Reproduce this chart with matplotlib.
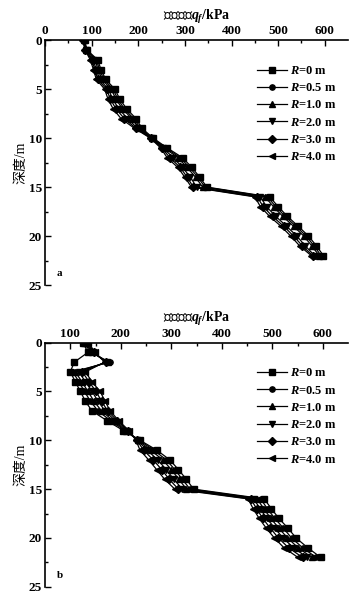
import matplotlib.pyplot as plt
import numpy as np

plt.rcParams['font.family'] = ['Liberation Serif', 'Noto Sans CJK SC']
plt.rcParams['mathtext.fontset'] = 'custom'
plt.rcParams['mathtext.it'] = 'Liberation Serif:italic:bold'
plt.rcParams['mathtext.rm'] = 'Liberation Serif:bold'

depth = list(range(23))
labels = ['$R$=0 m', '$R$=0.5 m', '$R$=1.0 m', '$R$=2.0 m', '$R$=3.0 m', '$R$=4.0 m']
markers = ['s', 'o', '^', 'v', 'D', '<']

# panel a
a_r0 = [85, 90, 113, 120, 130, 150, 160, 175, 195, 208, 232, 262, 295, 315, 332, 347, 482, 500, 520, 543, 565, 582, 597]
a_r05 = [84, 89, 110, 117, 126, 146, 156, 170, 190, 205, 230, 259, 290, 310, 328, 343, 477, 495, 515, 538, 560, 577, 592]
a_r1 = [83, 88, 107, 114, 122, 142, 152, 166, 186, 202, 229, 256, 285, 305, 323, 338, 472, 490, 510, 533, 555, 572, 588]
a_r2 = [82, 87, 103, 110, 117, 136, 145, 158, 177, 198, 228, 253, 275, 295, 312, 325, 462, 475, 495, 518, 540, 558, 578]
a_r3 = [82, 86, 100, 107, 113, 132, 140, 152, 170, 195, 227, 250, 268, 290, 305, 318, 455, 468, 488, 512, 533, 552, 574]
a_r4 = [81, 86, 97, 104, 110, 128, 135, 146, 163, 192, 226, 248, 262, 285, 300, 314, 450, 462, 482, 506, 527, 546, 571]

# panel b
b_r0 = [125, 135, 108, 100, 110, 120, 130, 143, 173, 205, 238, 271, 297, 314, 330, 344, 484, 498, 513, 531, 547, 570, 596]
b_r05 = [128, 140, 178, 105, 117, 128, 140, 155, 180, 208, 236, 265, 290, 307, 322, 337, 477, 490, 505, 522, 538, 560, 587]
b_r1 = [130, 143, 175, 110, 123, 135, 147, 162, 185, 210, 234, 259, 283, 300, 315, 330, 470, 483, 497, 513, 530, 551, 578]
b_r2 = [132, 145, 172, 117, 130, 143, 155, 169, 189, 212, 233, 252, 273, 290, 305, 322, 463, 476, 489, 505, 521, 542, 569]
b_r3 = [134, 147, 170, 124, 137, 151, 162, 174, 193, 214, 232, 245, 264, 281, 296, 314, 457, 469, 481, 496, 512, 532, 560]
b_r4 = [136, 149, 168, 130, 143, 159, 169, 179, 196, 216, 230, 238, 255, 271, 287, 307, 452, 462, 474, 488, 504, 523, 551]

fig = plt.figure(figsize=(3.6, 6), dpi=100)
ax_a = fig.add_axes([0.125, 0.525, 0.842, 0.408])
ax_b = fig.add_axes([0.125, 0.022, 0.842, 0.407])


def draw_panel(ax, series, xlim, xticks, xminor, tag):
    for vals, m, lab in zip(series, markers, labels):
        ax.plot(vals, depth, color='black', lw=0.9, marker=m, ms=3.8, label=lab)
    ax.set_xlim(xlim)
    ax.set_ylim(25, 0)
    ax.xaxis.tick_top()
    ax.xaxis.set_label_position('top')
    ax.set_xticks(xticks)
    ax.set_xticks(xminor, minor=True)
    ax.set_yticks([0, 5, 10, 15, 20, 25])
    ax.set_yticks([2.5, 7.5, 12.5, 17.5, 22.5], minor=True)
    ax.tick_params(which='both', direction='in', width=1, labelsize=9.5, pad=2)
    ax.tick_params(which='major', length=4)
    ax.tick_params(which='minor', length=2.5)
    for t in ax.get_xticklabels() + ax.get_yticklabels():
        t.set_fontweight('bold')
    ax.spines['right'].set_visible(False)
    ax.spines['bottom'].set_visible(False)
    ax.spines['left'].set_linewidth(1.2)
    ax.spines['top'].set_linewidth(1.2)
    ax.set_xlabel('静破坏力$q_f$/kPa', fontsize=10, fontweight='bold', labelpad=4)
    ax.set_ylabel('深度/m', fontsize=10, labelpad=1)
    leg = ax.legend(loc='upper right', bbox_to_anchor=(1.0, 0.945), frameon=False,
                    fontsize=9, handlelength=2.4, labelspacing=0.42, handletextpad=0.3)
    for t in leg.get_texts():
        t.set_fontweight('bold')
    ax.text(0.04, 0.035, tag, transform=ax.transAxes, fontsize=8, fontweight='bold')


draw_panel(ax_a, [a_r0, a_r05, a_r1, a_r2, a_r3, a_r4], (0, 650),
           [0, 100, 200, 300, 400, 500, 600], [50, 150, 250, 350, 450, 550], 'a')
draw_panel(ax_b, [b_r0, b_r05, b_r1, b_r2, b_r3, b_r4], (50, 650),
           [100, 200, 300, 400, 500, 600], [150, 250, 350, 450, 550], 'b')

fig.savefig('out.png', dpi=100)
